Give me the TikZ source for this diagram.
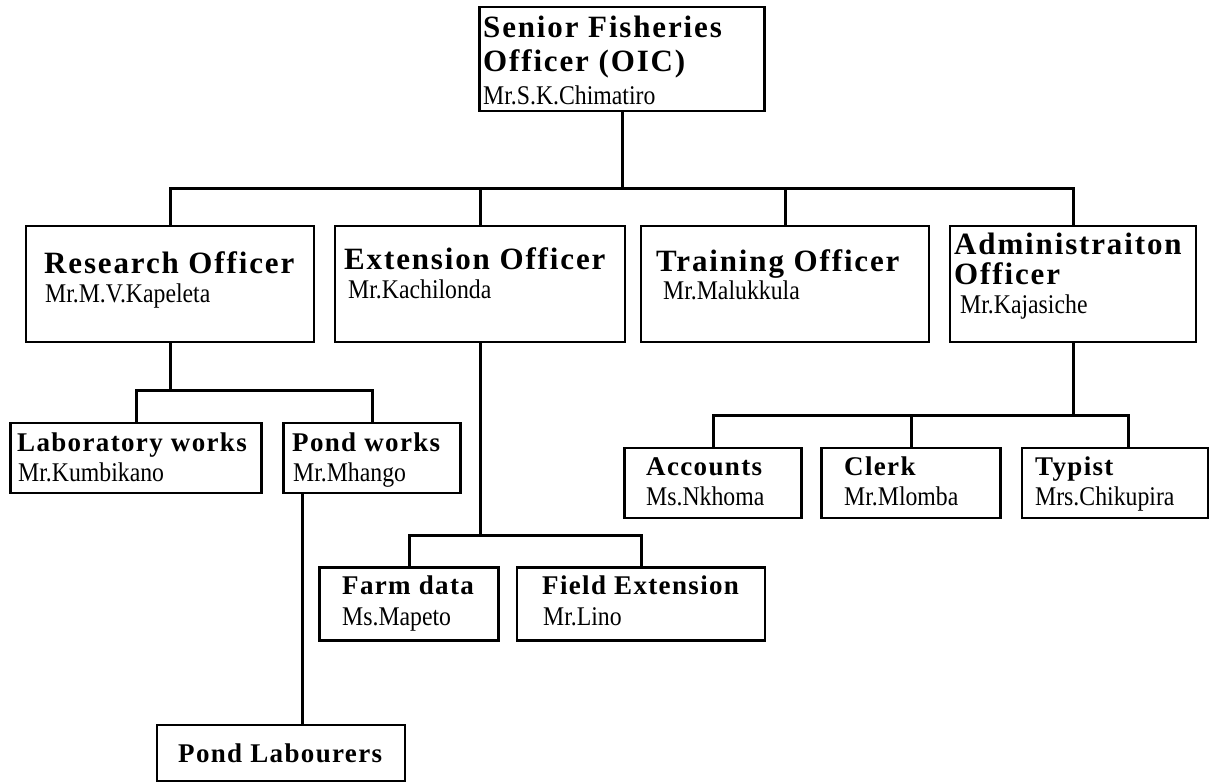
\documentclass[tikz,border=0pt]{standalone}
\usepackage{fontspec}
\setmainfont{Liberation Serif}
\newfontfamily\titlefont{Liberation Serif}[LetterSpace=6]
\newfontfamily\subtitlefont{Liberation Serif}[LetterSpace=5]
\newfontfamily\namefont{Liberation Serif}[FakeStretch=0.88]
\begin{document}
\begin{tikzpicture}[x=1pt,y=-1pt,
  box/.style 2 args={draw, line width=2.2pt, minimum width=#1pt, minimum height=#2pt, inner sep=0pt},
  conn/.style={line width=3pt},
  tA/.style={font=\titlefont\bfseries\fontsize{31}{31}\selectfont, anchor=base west, inner sep=0pt},
  tB/.style={font=\subtitlefont\bfseries\fontsize{27}{27}\selectfont, anchor=base west, inner sep=0pt},
  nm/.style={font=\namefont\fontsize{27}{27}\selectfont, anchor=base west, inner sep=0pt}]
\fill[white] (0,0) rectangle (1210,782);
\useasboundingbox (0,0) rectangle (1210,782);
% top
\node[box={285}{104}] (top) at (622,59) {};
\node[tA] (topA) at (483,37) {Senior Fisheries};
\node[tA] (topB) at (483,71) {Officer (OIC)};
\node[nm] (topC) at (483,104) {Mr.S.K.Chimatiro};
% row 2
\node[box={288}{116}] (res) at (170,284) {};
\node[tA] (resA) at (44,273) {Research Officer};
\node[nm] (resB) at (45,302) {Mr.M.V.Kapeleta};
\node[box={290}{116}] (ext) at (480,284) {};
\node[tA] (extA) at (344,269) {Extension Officer};
\node[nm] (extB) at (348,298) {Mr.Kachilonda};
\node[box={288}{116}] (trn) at (785,284) {};
\node[tA] (trnA) at (656,271) {Training Officer};
\node[nm] (trnB) at (663,299) {Mr.Malukkula};
\node[box={246}{116}] (adm) at (1073,284) {};
\node[tA] (admA) at (954,254) {Administraiton};
\node[tA] (admB) at (954,284) {Officer};
\node[nm] (admC) at (960,313) {Mr.Kajasiche};
% research children
\node[box={251}{70}] (lab) at (136,458) {};
\node[tB] (labA) at (17,451) {Laboratory works};
\node[nm] (labB) at (18,481) {Mr.Kumbikano};
\node[box={177}{70}] (pw) at (372,458) {};
\node[tB] (pwA) at (292,451) {Pond works};
\node[nm] (pwB) at (293,481) {Mr.Mhango};
\node[box={248}{56}] (pl) at (281,753) {};
\node[tB] (plA) at (178,762) {Pond Labourers};
% admin children
\node[box={177}{70}] (acc) at (713,483) {};
\node[tB] (accA) at (646,475) {Accounts};
\node[nm] (accB) at (646,505) {Ms.Nkhoma};
\node[box={179}{70}] (clk) at (911,483) {};
\node[tB] (clkA) at (844,475) {Clerk};
\node[nm] (clkB) at (844,505) {Mr.Mlomba};
\node[box={186}{70}] (typ) at (1115,483) {};
\node[tB] (typA) at (1035,475) {Typist};
\node[nm] (typB) at (1035,505) {Mrs.Chikupira};
% extension children
\node[box={179}{73}] (farm) at (409,604) {};
\node[tB] (farmA) at (342,594) {Farm data};
\node[nm] (farmB) at (342,625) {Ms.Mapeto};
\node[box={248}{73}] (fld) at (641,604) {};
\node[tB] (fldA) at (542,594) {Field Extension};
\node[nm] (fldB) at (543,625) {Mr.Lino};
% buses
\coordinate (bus) at (0,188);
\coordinate (rbus) at (0,390);
\coordinate (abus) at (0,415);
\coordinate (ebus) at (0,535);
\coordinate (pwx) at (302,0);
\coordinate (typx) at (1128,0);
\draw[conn] (top.south) -- (top.south |- bus);
\draw[conn] (res.north) |- (adm.north |- bus) -- (adm.north);
\draw[conn] (ext.north) -- (ext.north |- bus);
\draw[conn] (trn.north) -- (trn.north |- bus);
\draw[conn] (res.south) -- (res.south |- rbus);
\draw[conn] (lab.north) |- (pw.north |- rbus) -- (pw.north);
\draw[conn] (pw.south -| pwx) -- (pl.north -| pwx);
\draw[conn] (adm.south) -- (adm.south |- abus);
\draw[conn] (acc.north) |- (typx |- abus) -- (typ.north -| typx);
\draw[conn] (clk.north) -- (clk.north |- abus);
\draw[conn] (ext.south) -- (ext.south |- ebus);
\draw[conn] (farm.north) |- (fld.north |- ebus) -- (fld.north);
\end{tikzpicture}
\end{document}
